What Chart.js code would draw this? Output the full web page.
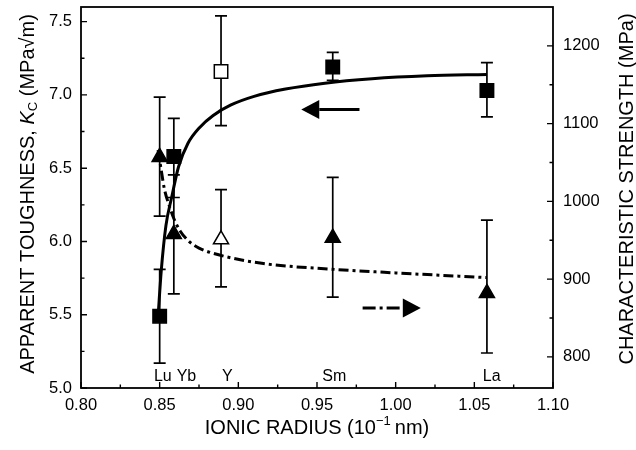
<!DOCTYPE html>
<html>
<head>
<meta charset="utf-8">
<script src="https://cdn.jsdelivr.net/npm/chart.js@4.4.1/dist/chart.umd.min.js"></script>
<style>
  html, body { margin: 0; padding: 0; background: #fff; }
  #wrapper { width: 636px; height: 450px; }
</style>
</head>
<body>
<div id="wrapper"><canvas id="kc_chart" width="636" height="450"></canvas></div>
<script>
// dopant elements and their ionic radius (10^-1 nm)
const elements = ['Lu', 'Yb', 'Y', 'Sm', 'La'];
const radius = [0.850, 0.859, 0.889, 0.960, 1.058];
// element names written along the bottom of the plot
const label_x = [0.852, 0.867, 0.893, 0.961, 1.061];
const label_y = 5.08;

// apparent toughness K_C (MPa sqrt m), left axis
const toughness = [5.49, 6.58, 7.16, 7.19, 7.03];
const tough_low = [5.17, 6.30, 6.79, 7.10, 6.85];
const tough_high = [5.81, 6.84, 7.54, 7.29, 7.22];

// characteristic strength (MPa), right axis
const strength = [1057, 958, 951, 953, 882];
const strength_low = [981, 881, 890, 877, 805];
const strength_high = [1134, 1034, 1015, 1031, 976];

// Y is plotted with open symbols
const open_point = [false, false, true, false, false];

// fitted trend lines
const tough_fit_x = [0.849, 0.851, 0.854, 0.8576, 0.862, 0.868, 0.8756, 0.884, 0.895, 0.910, 0.930, 0.955, 0.985, 1.020, 1.058];
const tough_fit_y = [5.49, 5.80, 6.11, 6.30, 6.51, 6.67, 6.78, 6.86, 6.93, 6.99, 7.04, 7.08, 7.11, 7.13, 7.14];
const strength_fit_x = [0.849, 0.851, 0.853, 0.856, 0.859, 0.863, 0.869, 0.875, 0.888, 0.916, 0.958, 1.000, 1.058];
const strength_fit_y = [1066, 1040, 1016, 995, 978, 962, 948, 940, 931, 920, 913, 908, 902];

// axis ticks
const x_ticks = [0.80, 0.85, 0.90, 0.95, 1.00, 1.05, 1.10];
const left_ticks = [5.0, 5.5, 6.0, 6.5, 7.0, 7.5];
const right_ticks = [800, 900, 1000, 1100, 1200];

// the two "which axis" arrows: value level, tail x, tip x
const arrow_left = [6.90, 0.977, 0.940];
const arrow_right = [863, 0.979, 1.016];

const FONT = "'Liberation Sans', Arial, sans-serif";

window.addEventListener('load', function(){
    var ctx = document.getElementById('kc_chart').getContext('2d');

    function toPoints(xs, ys){
        return xs.map((v, i) => ({x: v, y: ys[i]}));
    }

    // draws a list of text pieces centred on (cx, cy)
    function drawRuns(ctx, runs, cx, cy){
        let total = 0;
        runs.forEach(r => { ctx.font = r.font; r.w = ctx.measureText(r.t).width; total += r.w; });
        let x = cx - total / 2;
        ctx.textAlign = 'left';
        ctx.textBaseline = 'middle';
        runs.forEach(r => {
            ctx.font = r.font;
            ctx.fillText(r.t, x, cy + (r.dy || 0));
            x += r.w;
        });
    }

    function drawArrow(ctx, xs, ys, spec, dash){
        const y = ys.getPixelForValue(spec[0]);
        const tail = xs.getPixelForValue(spec[1]);
        const tip = xs.getPixelForValue(spec[2]);
        const dir = tip > tail ? 1 : -1;
        const base = tip - dir * 18;
        ctx.save();
        ctx.lineWidth = 3;
        ctx.setLineDash(dash);
        ctx.beginPath();
        ctx.moveTo(tail, y);
        ctx.lineTo(base, y);
        ctx.stroke();
        ctx.setLineDash([]);
        ctx.beginPath();
        ctx.moveTo(tip, y);
        ctx.lineTo(base, y - 9.5);
        ctx.lineTo(base, y + 9.5);
        ctx.closePath();
        ctx.fill();
        ctx.restore();
    }

    function fixedTicks(values){
        return function(scale){
            scale.ticks = values.map(v => ({value: v}));
        };
    }

    // pin the plot box: no extra room for overhanging labels
    function fitWidth(w){
        return function(scale){
            scale.width = w;
            scale.paddingTop = 0;
            scale.paddingBottom = 0;
        };
    }

    const extras = {
        id: 'extras',
        beforeDatasetsDraw(chart){
            const c = chart.ctx;
            const xs = chart.scales.x, yl = chart.scales.y, yr = chart.scales.y2;
            c.save();
            c.strokeStyle = '#000';
            c.lineWidth = 1.7;
            function errorBar(px, lo, hi){
                c.beginPath();
                c.moveTo(px, lo); c.lineTo(px, hi);
                c.moveTo(px - 6, lo); c.lineTo(px + 6, lo);
                c.moveTo(px - 6, hi); c.lineTo(px + 6, hi);
                c.stroke();
            }
            for (let i = 0; i < radius.length; i++){
                const px = xs.getPixelForValue(radius[i]);
                errorBar(px, yl.getPixelForValue(tough_low[i]), yl.getPixelForValue(tough_high[i]));
                errorBar(px, yr.getPixelForValue(strength_low[i]), yr.getPixelForValue(strength_high[i]));
            }
            c.restore();
        },
        afterDraw(chart){
            const c = chart.ctx;
            const a = chart.chartArea;
            const xs = chart.scales.x, yl = chart.scales.y, yr = chart.scales.y2;
            c.save();
            c.strokeStyle = '#000';
            c.fillStyle = '#000';

            // frame
            c.lineWidth = 1.8;
            c.strokeRect(a.left, a.top, a.right - a.left, a.bottom - a.top);

            // inward tick marks, majors from the scales and minors half way
            c.lineWidth = 1.4;
            function ticks(scale, horizontal, edge, sign){
                const vals = scale.ticks.map(t => t.value);
                const step = vals[1] - vals[0];
                const minors = [];
                for (let v = vals[0] - step / 2; v < scale.max - 1e-9; v += step){
                    if (v > scale.min + 1e-9) minors.push(v);
                }
                c.beginPath();
                vals.forEach(v => {
                    const p = scale.getPixelForValue(v);
                    if (horizontal){ c.moveTo(p, edge); c.lineTo(p, edge + sign * 6); }
                    else { c.moveTo(edge, p); c.lineTo(edge + sign * 6, p); }
                });
                minors.forEach(v => {
                    const p = scale.getPixelForValue(v);
                    if (horizontal){ c.moveTo(p, edge); c.lineTo(p, edge + sign * 3.5); }
                    else { c.moveTo(edge, p); c.lineTo(edge + sign * 3.5, p); }
                });
                c.stroke();
            }
            ticks(xs, true, a.bottom, -1);
            ticks(yl, false, a.left, 1);
            ticks(yr, false, a.right, -1);

            // element names
            c.font = '16px ' + FONT;
            c.textAlign = 'center';
            c.textBaseline = 'middle';
            elements.forEach((el, i) => {
                c.fillText(el, xs.getPixelForValue(label_x[i]), yl.getPixelForValue(label_y));
            });

            // arrows pointing at the matching axis
            drawArrow(c, xs, yl, arrow_left, []);
            drawArrow(c, xs, yr, arrow_right, [13, 4, 3, 4]);

            // axis titles
            drawRuns(c, [
                {t: 'IONIC RADIUS (10', font: '20px ' + FONT},
                {t: '\u22121', font: '13px ' + FONT, dy: -7},
                {t: '\u2009nm)', font: '20px ' + FONT}
            ], (a.left + a.right) / 2, 428);

            c.save();
            c.translate(28, 194);
            c.rotate(-Math.PI / 2);
            drawRuns(c, [
                {t: 'APPARENT TOUGHNESS, ', font: '20px ' + FONT},
                {t: 'K', font: 'italic 20px ' + FONT},
                {t: 'C', font: '13px ' + FONT, dy: 5},
                {t: ' (MPa\u221Am)', font: '20px ' + FONT}
            ], 0, 0);
            c.restore();

            c.save();
            c.translate(627, 189);
            c.rotate(-Math.PI / 2);
            drawRuns(c, [
                {t: 'CHARACTERISTIC STRENGTH (MPa)', font: '20px ' + FONT}
            ], 0, 0);
            c.restore();

            c.restore();
        }
    };

    const tickFont = {family: FONT, size: 16.5};

    var kc_chart = new Chart(ctx, {
        type: 'scatter',
        data: {
            datasets: [{
                label: 'Toughness',
                data: toPoints(radius, toughness),
                yAxisID: 'y',
                pointStyle: 'rect',
                pointRadius: 9.5,
                pointBackgroundColor: open_point.map(o => o ? '#fff' : '#000'),
                pointBorderColor: '#000',
                pointBorderWidth: 1.5,
                order: 0
            }, {
                label: 'Strength',
                data: toPoints(radius, strength),
                yAxisID: 'y2',
                pointStyle: 'triangle',
                pointRadius: 8.7,
                pointBackgroundColor: open_point.map(o => o ? '#fff' : '#000'),
                pointBorderColor: '#000',
                pointBorderWidth: 1.5,
                order: 1
            }, {
                label: 'Toughness fit',
                type: 'line',
                data: toPoints(tough_fit_x, tough_fit_y),
                yAxisID: 'y',
                showLine: true,
                borderColor: '#000',
                borderWidth: 3,
                pointRadius: 0,
                fill: false,
                cubicInterpolationMode: 'monotone',
                order: 2
            }, {
                label: 'Strength fit',
                type: 'line',
                data: toPoints(strength_fit_x, strength_fit_y),
                yAxisID: 'y2',
                showLine: true,
                borderColor: '#000',
                borderWidth: 3,
                borderDash: [10, 4, 3, 4],
                pointRadius: 0,
                fill: false,
                cubicInterpolationMode: 'monotone',
                order: 3
            }]
        },
        options: {
            responsive: false,
            animation: false,
            devicePixelRatio: 1,
            layout: {
                autoPadding: false,
                padding: { top: 7, left: 0, right: 0, bottom: 0 }
            },
            plugins: {
                legend: { display: false },
                tooltip: { enabled: false }
            },
            scales: {
                x: {
                    type: 'linear',
                    min: 0.8,
                    max: 1.1,
                    grid: { display: false, drawTicks: false },
                    border: { display: false },
                    afterBuildTicks: fixedTicks(x_ticks),
                    ticks: {
                        padding: 8,
                        color: '#000',
                        font: tickFont,
                        callback: v => v.toFixed(2)
                    },
                    afterFit: function(scale){
                        scale.height = 62;
                        scale.paddingLeft = 0;
                        scale.paddingRight = 0;
                    }
                },
                y: {
                    position: 'left',
                    min: 5.0,
                    max: 7.6,
                    grid: { display: false, drawTicks: false },
                    border: { display: false },
                    afterBuildTicks: fixedTicks(left_ticks),
                    ticks: {
                        padding: 9,
                        color: '#000',
                        font: tickFont,
                        callback: v => v.toFixed(1)
                    },
                    afterFit: fitWidth(81)
                },
                y2: {
                    position: 'right',
                    min: 760,
                    max: 1250,
                    grid: { display: false, drawTicks: false },
                    border: { display: false },
                    afterBuildTicks: fixedTicks(right_ticks),
                    ticks: {
                        padding: 10,
                        color: '#000',
                        font: tickFont,
                        callback: v => String(v)
                    },
                    afterFit: fitWidth(83)
                }
            }
        },
        plugins: [extras]
    });
});
</script>
</body>
</html>
